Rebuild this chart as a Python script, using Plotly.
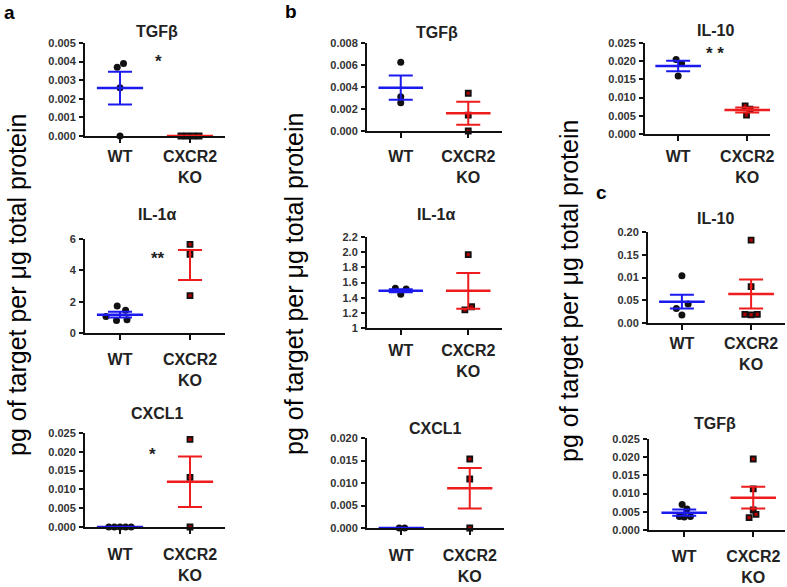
import plotly.graph_objects as go

W, H = 787, 587
groups = ["WT", "CXCR2<br>KO"]

# ---------------- data ----------------
# panel a
a_tgfb_wt = [0.0039, 0.0037, 0.0026, 0.0]
a_tgfb_ko = [0.0, 0.0, 0.0, 0.0]
a_tgfb_mean = [0.00258, 0.0]
a_tgfb_sem = [0.00088, 0.0]

a_il1a_wt = [1.72, 1.45, 1.05, 0.80, 0.85]
a_il1a_ko = [5.66, 5.02, 2.38]
a_il1a_mean = [1.17, 4.34]
a_il1a_sem = [0.18, 0.96]

a_cxcl1_wt = [0.0, 0.0, 0.0, 0.0, 0.0]
a_cxcl1_ko = [0.0233, 0.0132, 0.0]
a_cxcl1_mean = [0.0, 0.01205]
a_cxcl1_sem = [0.0, 0.0067]

# panel b
b_tgfb_wt = [0.00625, 0.00312, 0.00257]
b_tgfb_ko = [0.00343, 0.00145, 0.0]
b_tgfb_mean = [0.00394, 0.00161]
b_tgfb_sem = [0.0011, 0.00105]

b_il1a_wt = [1.524, 1.515, 1.444]
b_il1a_ko = [1.967, 1.28, 1.24]
b_il1a_mean = [1.49, 1.49]
b_il1a_sem = [0.02, 0.235]

b_cxcl1_wt = [0.0, 0.0]
b_cxcl1_ko = [0.01533, 0.01089, 0.0]
b_cxcl1_mean = [0.0, 0.00882]
b_cxcl1_sem = [0.0, 0.0045]

b_il10_wt = [0.0205, 0.0194, 0.0159]
b_il10_ko = [0.0077, 0.0068, 0.0052]
b_il10_mean = [0.01868, 0.0066]
b_il10_sem = [0.00147, 0.0007]

# panel c
c_il10_wt = [0.104, 0.042, 0.032, 0.0176]
c_il10_ko = [0.182, 0.080, 0.019, 0.018, 0.019]
c_il10_mean = [0.0469, 0.0637]
c_il10_sem = [0.015, 0.032]

c_tgfb_wt = [0.0070, 0.0058, 0.0037, 0.0036, 0.0037]
c_tgfb_ko = [0.0195, 0.0113, 0.0055, 0.0043, 0.0034]
c_tgfb_mean = [0.00476, 0.00888]
c_tgfb_sem = [0.00087, 0.003]

# tick labels
tk_a_tgfb = ["0.000", "0.001", "0.002", "0.003", "0.004", "0.005"]
tk_a_il1a = ["0", "2", "4", "6"]
tk_cx25 = ["0.000", "0.005", "0.010", "0.015", "0.020", "0.025"]
tk_b_tgfb = ["0.000", "0.002", "0.004", "0.006", "0.008"]
tk_b_il1a = ["1", "1.2", "1.4", "1.6", "1.8", "2.0", "2.2"]
tk_cx20 = ["0.000", "0.005", "0.010", "0.015", "0.020"]
tk_c_il10 = ["0.00", "0.05", "0.01", "0.15", "0.20"]

# ---------------- panel layout (styling / positions) ----------------
panels = [
    dict(title="TGFβ", wt=a_tgfb_wt, ko=a_tgfb_ko, mean=a_tgfb_mean, sem=a_tgfb_sem,
         jw=[0.05, -0.04, 0, 0], jk=[-0.13, -0.045, 0.045, 0.13],
         px=(85, 225), py=(43, 136), xr=[-0.5, 1.5], yr=[0, 0.005],
         tv=[0, 0.001, 0.002, 0.003, 0.004, 0.005], tt=tk_a_tgfb, so=0,
         tpos=(157, 31), star="*", spos=(158, 62), showmean=[True, True]),
    dict(title="IL-1α", wt=a_il1a_wt, ko=a_il1a_ko, mean=a_il1a_mean, sem=a_il1a_sem,
         jw=[-0.04, 0.08, -0.2, -0.05, 0.1], jk=[0, 0, 0],
         px=(85, 225), py=(239, 333), xr=[-0.5, 1.5], yr=[0, 6],
         tv=[0, 2, 4, 6], tt=tk_a_il1a, so=6,
         tpos=(157, 215), star="**", spos=(158, 258), showmean=[True, False]),
    dict(title="CXCL1", wt=a_cxcl1_wt, ko=a_cxcl1_ko, mean=a_cxcl1_mean, sem=a_cxcl1_sem,
         jw=[-0.16, -0.08, 0, 0.08, 0.16], jk=[0, 0, 0],
         px=(85, 225), py=(433, 527), xr=[-0.5, 1.5], yr=[0, 0.025],
         tv=[0, 0.005, 0.01, 0.015, 0.02, 0.025], tt=tk_cx25, so=7,
         tpos=(157, 413), star="*", spos=(152, 454), showmean=[True, True]),
    dict(title="TGFβ", wt=b_tgfb_wt, ko=b_tgfb_ko, mean=b_tgfb_mean, sem=b_tgfb_sem,
         jw=[0, 0, 0], jk=[0, 0, 0],
         px=(367, 502), py=(43, 131), xr=[-0.5, 1.5], yr=[0, 0.008],
         tv=[0, 0.002, 0.004, 0.006, 0.008], tt=tk_b_tgfb, so=5,
         tpos=(437, 32), star="", spos=(0, 0), showmean=[True, True]),
    dict(title="IL-1α", wt=b_il1a_wt, ko=b_il1a_ko, mean=b_il1a_mean, sem=b_il1a_sem,
         jw=[-0.08, 0.08, 0], jk=[0, 0.05, -0.05],
         px=(367, 502), py=(237, 328), xr=[-0.5, 1.5], yr=[1, 2.2],
         tv=[1, 1.2, 1.4, 1.6, 1.8, 2.0, 2.2], tt=tk_b_il1a, so=2,
         tpos=(436, 215), star="", spos=(0, 0), showmean=[True, True]),
    dict(title="CXCL1", wt=b_cxcl1_wt, ko=b_cxcl1_ko, mean=b_cxcl1_mean, sem=b_cxcl1_sem,
         jw=[-0.03, 0.05], jk=[0, 0, 0],
         px=(367, 504), py=(438, 528), xr=[-0.5, 1.5], yr=[0, 0.02],
         tv=[0, 0.005, 0.01, 0.015, 0.02], tt=tk_cx20, so=7,
         tpos=(435, 428), star="", spos=(0, 0), showmean=[True, True]),
    dict(title="IL-10", wt=b_il10_wt, ko=b_il10_ko, mean=b_il10_mean, sem=b_il10_sem,
         jw=[-0.03, 0.05, 0], jk=[-0.03, 0.04, -0.01],
         px=(645, 770), py=(43, 134), xr=[-0.48, 1.33], yr=[0, 0.025],
         tv=[0, 0.005, 0.01, 0.015, 0.02, 0.025], tt=tk_cx25, so=2,
         tpos=(715, 30), star="* *", spos=(715, 54), showmean=[True, True]),
    dict(title="IL-10", wt=c_il10_wt, ko=c_il10_ko, mean=c_il10_mean, sem=c_il10_sem,
         jw=[0, 0.09, -0.08, 0], jk=[0, 0, -0.09, 0, 0.09],
         px=(648, 785), py=(232, 323), xr=[-0.49, 1.49], yr=[0, 0.2],
         tv=[0, 0.05, 0.1, 0.15, 0.2], tt=tk_c_il10, so=0,
         tpos=(715, 218), star="", spos=(0, 0), showmean=[True, True]),
    dict(title="TGFβ", wt=c_tgfb_wt, ko=c_tgfb_ko, mean=c_tgfb_mean, sem=c_tgfb_sem,
         jw=[-0.03, 0.04, -0.07, 0, 0.09], jk=[0, 0, 0, 0.04, -0.06],
         px=(649, 785), py=(439, 530), xr=[-0.51, 1.46], yr=[0, 0.025],
         tv=[0, 0.005, 0.01, 0.015, 0.02, 0.025], tt=tk_cx25, so=6,
         tpos=(715, 423), star="", spos=(0, 0), showmean=[True, True]),
]

BLUE = "#1a1aee"
RED = "#ee1c1c"
FONT = "Arial, Liberation Sans, sans-serif"

fig = go.Figure()
annotations = []
layout_axes = {}

for i, p in enumerate(panels):
    n = "" if i == 0 else str(i + 1)
    xa, ya = "x" + n, "y" + n
    # points
    fig.add_trace(go.Scatter(
        x=[0 + j for j in p["jw"]], y=p["wt"], xaxis=xa, yaxis=ya, mode="markers",
        marker=dict(symbol="circle", size=7, color="#111111", line=dict(width=0)),
        cliponaxis=False, showlegend=False, hoverinfo="y"))
    fig.add_trace(go.Scatter(
        x=[1 + j for j in p["jk"]], y=p["ko"], xaxis=xa, yaxis=ya, mode="markers",
        marker=dict(symbol="square", size=5, color="#b00000",
                    line=dict(color="#111111", width=1.8)), cliponaxis=False,
        showlegend=False, hoverinfo="y"))
    # mean lines and SEM bars
    for g, col in enumerate([BLUE, RED]):
        if p["showmean"][g]:
            fig.add_trace(go.Scatter(
                x=[g - 0.33, g + 0.33], y=[p["mean"][g]] * 2, xaxis=xa, yaxis=ya,
                mode="lines", line=dict(color=col, width=2.5), cliponaxis=False,
                showlegend=False, hoverinfo="skip"))
        if p["sem"][g] > 0:
            fig.add_trace(go.Scatter(
                x=[g], y=[p["mean"][g]], xaxis=xa, yaxis=ya, mode="markers",
                marker=dict(size=1, color="rgba(0,0,0,0)"),
                error_y=dict(type="data", array=[p["sem"][g]], color=col,
                             thickness=2, width=12, visible=True),
                cliponaxis=False, showlegend=False, hoverinfo="skip"))
    x0, x1 = p["px"]
    y0, y1 = p["py"]
    layout_axes["xaxis" + n] = dict(
        domain=[x0 / W, x1 / W], anchor=ya, range=p["xr"], tickmode="array",
        tickvals=[0, 1], ticktext=groups, showline=True, linecolor="#111111",
        linewidth=2, ticks="outside", ticklen=5, tickwidth=2, tickcolor="#111111",
        showgrid=False, zeroline=False, ticklabelstandoff=p["so"], automargin=False,
        tickfont=dict(family=FONT, size=16, color="#222222", weight="bold"))
    layout_axes["yaxis" + n] = dict(
        domain=[1 - y1 / H, 1 - y0 / H], anchor=xa, range=p["yr"], tickmode="array",
        tickvals=p["tv"], ticktext=p["tt"], showline=True, linecolor="#111111",
        linewidth=2, ticks="outside", ticklen=4, tickwidth=1.5, tickcolor="#111111",
        showgrid=False, zeroline=False, ticklabelstandoff=1, automargin=False,
        tickfont=dict(family=FONT, size=11, color="#333333", weight="bold"))
    annotations.append(dict(
        text=p["title"], x=p["tpos"][0] / W, y=1 - p["tpos"][1] / H, xref="paper",
        yref="paper", showarrow=False, xanchor="center", yanchor="middle",
        font=dict(family=FONT, size=16, color="#222222", weight="bold")))
    if p["star"]:
        annotations.append(dict(
            text=p["star"], x=p["spos"][0] / W, y=1 - p["spos"][1] / H, xref="paper",
            yref="paper", showarrow=False, xanchor="center", yanchor="middle",
            font=dict(family=FONT, size=17, color="#222222", weight="bold")))

ylab = "pg of target per μg total protein"
for (cx, cy) in [(17, 285), (294, 284), (569, 291)]:
    annotations.append(dict(
        text=ylab, x=cx / W, y=1 - cy / H, xref="paper", yref="paper",
        showarrow=False, textangle=-90, xanchor="center", yanchor="middle",
        font=dict(family=FONT, size=25, color="#000000")))

for (lab, cx, cy) in [("a", 9, 12), ("b", 291, 11), ("c", 601, 192)]:
    annotations.append(dict(
        text=lab, x=cx / W, y=1 - cy / H, xref="paper", yref="paper",
        showarrow=False, xanchor="center", yanchor="middle",
        font=dict(family=FONT, size=19, color="#000000", weight="bold")))

fig.update_layout(
    template="none", autosize=False,
    width=W, height=H, margin=dict(l=0, r=0, t=0, b=0, pad=0),
    paper_bgcolor="white", plot_bgcolor="white",
    annotations=annotations, showlegend=False, **layout_axes)

fig.write_html("out.html", config={"displayModeBar": False},
               post_script="document.body.style.margin='0px';")
